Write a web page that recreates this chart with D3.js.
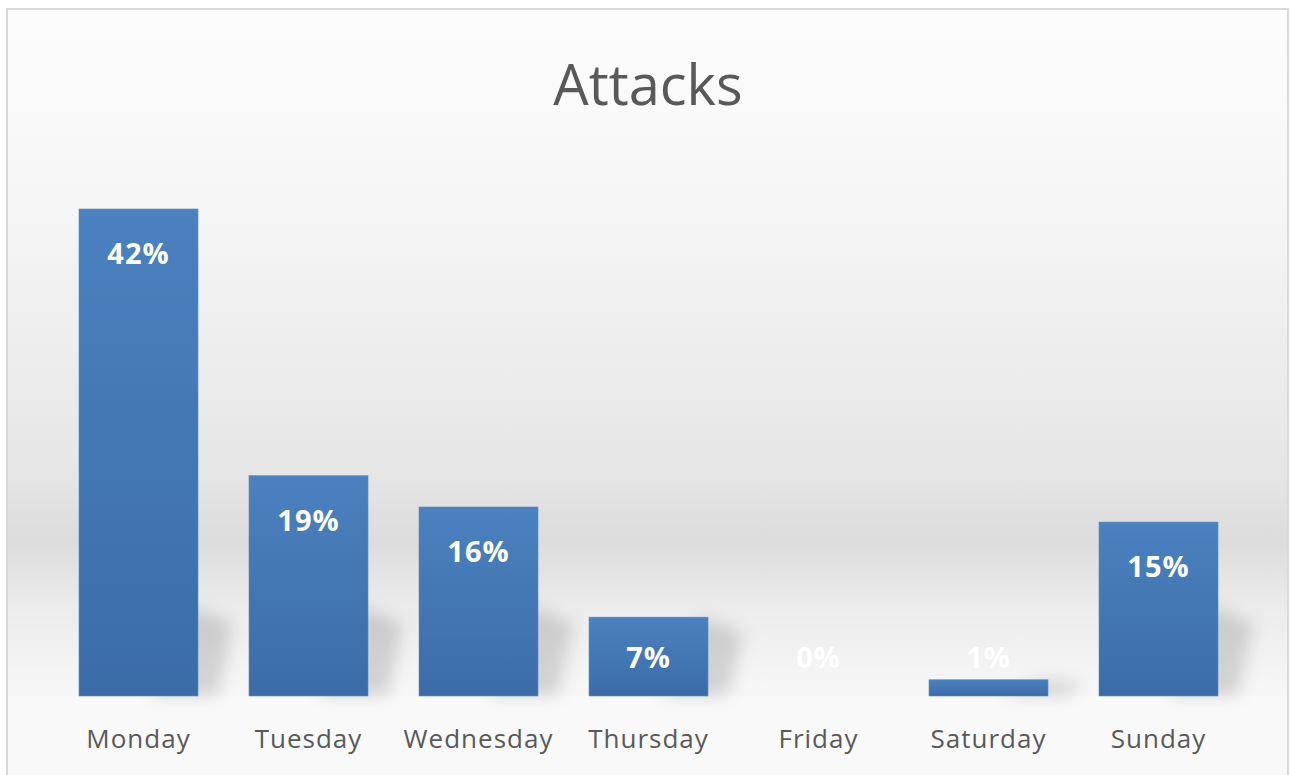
<!DOCTYPE html>
<html>
<head>
<meta charset="utf-8">
<script src="https://cdn.jsdelivr.net/npm/d3@7"></script>
<style>
  html, body { margin: 0; padding: 0; background: #ffffff; }
  svg { display: block; }
</style>
</head>
<body>
<svg id="chart" width="1290" height="775"></svg>
<script>
const categories = ["Monday", "Tuesday", "Wednesday", "Thursday", "Friday", "Saturday", "Sunday"];
const values = [42, 19, 16.3, 6.8, 0, 1.4, 15];
const title = "Attacks";

const svg = d3.select("#chart");
const defs = svg.append("defs");

// background gradient
const bg = defs.append("linearGradient").attr("id", "bg").attr("x1", 0).attr("y1", 0).attr("x2", 0).attr("y2", 1);
[[0, "#fdfdfd"], [0.25, "#f6f6f6"], [0.45, "#ededed"], [0.6, "#e6e6e6"], [0.69, "#dcdcdc"], [0.78, "#ececec"], [0.88, "#f6f6f6"], [1, "#fafafa"]]
  .forEach(([o, c]) => bg.append("stop").attr("offset", o).attr("stop-color", c));

const barGrad = defs.append("linearGradient").attr("id", "barg").attr("x1", 0).attr("y1", 0).attr("x2", 0).attr("y2", 1);
barGrad.append("stop").attr("offset", 0).attr("stop-color", "#4b81bf");
barGrad.append("stop").attr("offset", 1).attr("stop-color", "#3b6ca8");

const blur = defs.append("filter").attr("id", "blur").attr("x", "-50%").attr("y", "-50%").attr("width", "200%").attr("height", "200%");
blur.append("feGaussianBlur").attr("stdDeviation", 8);

// frame
svg.append("rect").attr("x", 7).attr("y", 9).attr("width", 1281).attr("height", 770)
  .attr("fill", "url(#bg)").attr("stroke", "#d9d9d9").attr("stroke-width", 2);
// lighter area under plot
svg.append("rect").attr("x", 8).attr("y", 696).attr("width", 1279).attr("height", 79).attr("fill", "#f9f9f9");

const x = d3.scaleBand().domain(categories).range([53.5, 1243.5]).paddingInner(0.3).paddingOuter(0.15);
const y = d3.scaleLinear().domain([0, 45]).range([696, 174.2]);

// shadows
const shadowG = svg.append("g").attr("filter", "url(#blur)");
categories.forEach((c, i) => {
  const v = values[i];
  if (v <= 0) return;
  const x0 = x(c), bw = x.bandwidth();
  const base = y(0);
  const h = Math.min(base - y(v), 90);
  const pts = [
    [x0 + bw * 0.6, base],
    [x0 + bw + 20, base],
    [x0 + bw + 35, base - h * 0.8],
    [x0 + bw * 0.7 + 30, base - h]
  ];
  shadowG.append("polygon").attr("points", pts.map(p => p.join(",")).join(" "))
    .attr("fill", "rgba(0,0,0,0.14)");
});

// bars
svg.append("g").selectAll("rect").data(values).join("rect")
  .attr("x", (d, i) => x(categories[i]))
  .attr("y", d => y(d))
  .attr("width", x.bandwidth())
  .attr("height", d => y(0) - y(d))
  .attr("fill", "url(#barg)")
  .attr("stroke", "#5a8cc6").attr("stroke-width", 0.6);

// data labels
const fmt = d => d3.format(".0f")(d) + "%";
svg.append("g").selectAll("text").data(values).join("text")
  .attr("x", (d, i) => x(categories[i]) + x.bandwidth() / 2)
  .attr("y", d => Math.min(y(d) + 55, y(0) - 28))
  .attr("text-anchor", "middle")
  .attr("font-family", "'Open Sans', 'Noto Sans', sans-serif")
  .attr("font-weight", "bold")
  .attr("font-size", 29)
  .attr("letter-spacing", 1)
  .attr("fill", "#ffffff")
  .text(d => fmt(d));

// x axis labels
const xAxis = d3.axisBottom(x).tickSize(0).tickPadding(0);
const ax = svg.append("g").attr("transform", "translate(0,748)").call(xAxis);
ax.select(".domain").remove();
ax.selectAll("text")
  .attr("dy", 0)
  .attr("font-family", "'Open Sans', 'Noto Sans', sans-serif")
  .attr("font-size", 26)
  .attr("letter-spacing", 1)
  .attr("fill", "#595959");

// title
svg.append("text").attr("x", 648).attr("y", 105).attr("text-anchor", "middle")
  .attr("font-family", "'Open Sans', 'Noto Sans', sans-serif")
  .attr("font-size", 56)
  .attr("fill", "#595959")
  .text(title);
</script>
</body>
</html>
